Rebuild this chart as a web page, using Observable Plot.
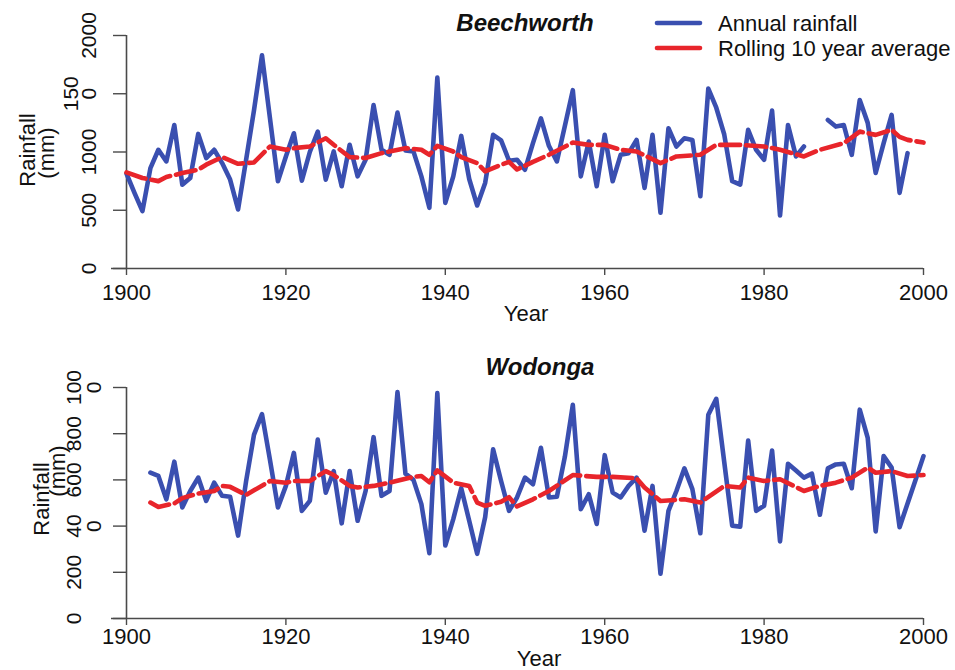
<!DOCTYPE html>
<html>
<head>
<meta charset="utf-8">
<script src="https://cdn.jsdelivr.net/npm/d3@7"></script>
<script src="https://cdn.jsdelivr.net/npm/@observablehq/plot@0.6"></script>
<style>
  html, body { margin: 0; padding: 0; background: #fff; }
  #wrap { position: relative; width: 955px; height: 670px; overflow: hidden; }
  #wrap svg { display: block; }
  #legend { position: absolute; left: 650px; top: 8px; }
</style>
</head>
<body>
<div id="wrap"></div>
<script>
// ---------------- data ----------------
const beechYears = d3.range(1900, 1999);
const beechRain = [
  814, 650, 492, 862, 1019, 919, 1232, 720, 777, 1155,
  948, 1019, 905, 763, 507, 930, 1360, 1830, 1290, 749,
  962, 1161, 754, 1000, 1175, 763, 1005, 706, 1062, 791,
  933, 1403, 1019, 976, 1338, 1013, 1005, 791, 521, 1639,
  563, 791, 1138, 768, 541, 734, 1147, 1100, 925, 933,
  848, 1076, 1289, 1053, 919, 1224, 1531, 791, 1090, 706,
  1147, 749, 976, 990, 1104, 692, 1147, 478, 1204, 1047,
  1118, 1104, 620, 1545, 1380, 1150, 749, 720, 1190, 1019,
  933, 1355, 455, 1232, 962, 1047, null, null, 1275, 1218,
  1232, 976, 1446, 1250, 820, 1076, 1318, 649, 990
];
const beechAvgYears = [1900, 1902, 1904, 1905, 1907, 1909, 1910, 1912, 1914, 1916,
  1918, 1920, 1921, 1923, 1925, 1926, 1928, 1930, 1932, 1935,
  1937, 1938, 1939, 1941, 1942, 1944, 1945, 1947, 1948, 1949,
  1951, 1953, 1956, 1958, 1960, 1962, 1964, 1967, 1969, 1972,
  1974, 1977, 1980, 1982, 1985, 1987, 1990, 1992, 1994, 1996,
  1997, 1998, 2000];
const beechAvg = [825, 777, 750, 785, 819, 848, 891, 956, 899, 910,
  1047, 1019, 1033, 1047, 1118, 1062, 956, 948, 990, 1033,
  1019, 976, 1053, 1004, 956, 905, 834, 890, 915, 850,
  915, 976, 1081, 1061, 1061, 1019, 1004, 905, 962, 976,
  1061, 1061, 1047, 1019, 962, 1019, 1076, 1175, 1147, 1190,
  1130, 1104, 1081];

const wodYears = d3.range(1903, 2001);
const wodRain = [
  631, 617, 516, 679, 481, 552, 610, 509, 588, 531,
  527, 359, 593, 796, 885, 687, 481, 574, 717, 466,
  509, 775, 545, 638, 412, 638, 423, 552, 785, 531,
  552, 980, 627, 600, 495, 283, 976, 316, 430, 564,
  423, 280, 438, 732, 595, 466, 524, 610, 581, 739,
  524, 527, 700, 925, 473, 538, 409, 707, 545, 524,
  574, 610, 380, 574, 194, 466, 552, 650, 560, 369,
  882, 951, 677, 402, 397, 770, 466, 488, 727, 334,
  670, 641, 610, 627, 449, 650, 667, 670, 564, 904,
  782, 377, 703, 653, 395, 498, 600, 703
];
const wodAvgYears = [1903, 1904, 1906, 1907, 1909, 1911, 1912, 1913, 1915, 1916,
  1918, 1920, 1921, 1923, 1925, 1926, 1928, 1929, 1931, 1933,
  1936, 1937, 1938, 1939, 1941, 1943, 1944, 1945, 1947, 1948,
  1949, 1951, 1953, 1956, 1959, 1961, 1964, 1965, 1967, 1970,
  1972, 1975, 1977, 1978, 1980, 1982, 1985, 1987, 1989, 1991,
  1993, 1994, 1996, 1998, 2000];
const wodAvg = [502, 483, 498, 521, 541, 552, 574, 570, 535, 555,
  595, 588, 595, 595, 638, 621, 574, 567, 574, 588,
  613, 617, 590, 641, 588, 574, 502, 488, 505, 525,
  485, 516, 552, 621, 613, 613, 607, 567, 509, 516,
  502, 574, 567, 610, 595, 603, 552, 574, 588, 610,
  653, 631, 638, 617, 621];

const xTicks = [1900, 1920, 1940, 1960, 1980, 2000];
// tick labels as printed (some are broken onto two lines in the original figure)
const yTicksTop = [0, 500, 1000, 1500, 2000];
const yLabelsTop = [["0"], ["500"], ["1000"], ["150", "0"], ["2000"]];
const yTicksBottom = [0, 200, 400, 600, 800, 1000];
const yLabelsBottom = [["0"], ["200"], ["40", "0"], ["600"], ["800"], ["100", "0"]];
const titles = ["Beechworth", "Wodonga"];
const legendLabels = ["Annual rainfall", "Rolling 10 year average"];

// ---------------- style ----------------
const FONT = "'Liberation Sans', Arial, Helvetica, sans-serif";
const BLUE = "#3a4fb0";
const RED = "#e8252b";
const AX = "#4a4a4a";

const rows = (ys, vs) => ys.map((y, i) => ({year: y, value: vs[i]}));

// split tick labels into: single-line labels, first lines, second lines
function labelGroup(ticks, labels, group) {
  const out = [];
  ticks.forEach((t, i) => {
    const L = labels[i];
    if (group === "single" && L.length === 1) out.push({v: t, t: L[0]});
    if (group === "first" && L.length > 1) out.push({v: t, t: L[0]});
    if (group === "second" && L.length > 1) out.push({v: t, t: L[1]});
  });
  return out;
}

function panel(o) {
  const tickText = (group, dx) => Plot.text(labelGroup(o.yTicks, o.yLabels, group), {
    y: "v", text: "t", frameAnchor: "left", textAnchor: "middle", rotate: -90,
    lineAnchor: o.labAnchor, dx, fontSize: 21, fill: "#111"
  });
  return Plot.plot({
    width: 955,
    height: o.height,
    marginLeft: 126,
    marginRight: 32,
    marginTop: o.marginTop,
    marginBottom: o.marginBottom,
    x: {domain: [1900, 2000]},
    y: {domain: o.yDomain},
    style: {fontFamily: FONT, color: "#111", background: "#fff"},
    marks: [
      Plot.ruleY([o.yDomain[0]], {stroke: AX, strokeWidth: 1.6, insetLeft: -15}),
      Plot.ruleX([1900], {stroke: AX, strokeWidth: 1.6}),
      Plot.axisX({ticks: xTicks, tickFormat: d => String(d), tickSize: 7, tickPadding: o.tickPadX,
                  fontSize: 22, label: null, stroke: AX, strokeWidth: 1.4}),
      Plot.axisY({ticks: o.yTicks, tickFormat: () => "", tickSize: 13,
                  label: null, stroke: AX, strokeWidth: 1.4}),
      tickText("single", o.singleDx),
      tickText("first", o.firstDx),
      tickText("second", o.secondDx),
      Plot.line(rows(o.years, o.rain), {x: "year", y: "value", stroke: BLUE, strokeWidth: 4.6,
                strokeLinejoin: "round", strokeLinecap: "round"}),
      Plot.line(rows(o.avgYears, o.avg), {x: "year", y: "value", stroke: RED, strokeWidth: 4.6,
                strokeDasharray: "20 6", strokeLinejoin: "round"}),
      Plot.text([o.title], {frameAnchor: "top", dx: o.titleDx, dy: o.titleDy, lineAnchor: "middle",
                fontSize: 24, fontWeight: "bold", fontStyle: "italic", fill: "#111"}),
      Plot.text(["Rainfall"], {frameAnchor: "left", textAnchor: "middle", lineAnchor: "middle",
                rotate: -90, dx: o.rainDx, dy: o.rainDy, fontSize: 22, fill: "#111"}),
      Plot.text(["(mm)"], {frameAnchor: "left", textAnchor: "middle", lineAnchor: "middle",
                rotate: -90, dx: o.mmDx, dy: o.mmDy, fontSize: 22, fill: "#111"}),
      Plot.text(["Year"], {frameAnchor: "bottom", lineAnchor: "top", dx: o.yearDx, dy: o.yearDy,
                fontSize: 22, fill: "#111"})
    ]
  });
}

const wrap = document.getElementById("wrap");

wrap.appendChild(panel({
  title: titles[0], years: beechYears, rain: beechRain, avgYears: beechAvgYears, avg: beechAvg,
  yDomain: [0, 2000], yTicks: yTicksTop, yLabels: yLabelsTop, height: 335,
  marginTop: 35, marginBottom: 67, labAnchor: "bottom",
  singleDx: -31, firstDx: -49, secondDx: -31, tickPadX: 9,
  yearDy: 37, yearDx: 1, titleDx: 0, titleDy: -12,
  rainDx: -99, rainDy: -2, mmDx: -80, mmDy: 1
}));

wrap.appendChild(panel({
  title: titles[1], years: wodYears, rain: wodRain, avgYears: wodAvgYears, avg: wodAvg,
  yDomain: [0, 1000], yTicks: yTicksBottom, yLabels: yLabelsBottom, height: 335,
  marginTop: 52, marginBottom: 52, labAnchor: "top",
  singleDx: -60, firstDx: -60, secondDx: -40, tickPadX: 3,
  yearDy: 32, yearDx: 14, titleDx: 15, titleDy: -20,
  rainDx: -85, rainDy: -4, mmDx: -69, mmDy: -32
}));

// ---------------- legend ----------------
const ns = "http://www.w3.org/2000/svg";
const leg = document.createElementNS(ns, "svg");
leg.setAttribute("id", "legend");
leg.setAttribute("width", 305);
leg.setAttribute("height", 56);
[[BLUE, 15], [RED, 40]].forEach(([c, y], i) => {
  const l = document.createElementNS(ns, "line");
  l.setAttribute("x1", 7); l.setAttribute("x2", 50);
  l.setAttribute("y1", y); l.setAttribute("y2", y);
  l.setAttribute("stroke", c); l.setAttribute("stroke-width", 4.6);
  l.setAttribute("stroke-linecap", "round");
  leg.appendChild(l);
  const t = document.createElementNS(ns, "text");
  t.setAttribute("x", 68); t.setAttribute("y", y + 2);
  t.setAttribute("dominant-baseline", "middle");
  t.setAttribute("font-family", FONT);
  t.setAttribute("font-size", 22);
  t.setAttribute("fill", "#111");
  t.textContent = legendLabels[i];
  leg.appendChild(t);
});
wrap.appendChild(leg);
</script>
</body>
</html>
